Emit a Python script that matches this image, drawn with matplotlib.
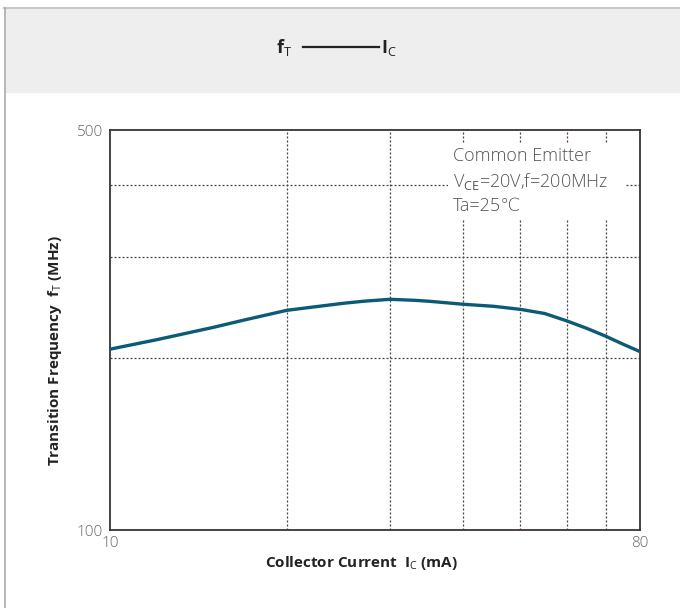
import numpy as np
import matplotlib
matplotlib.use('Agg')
import matplotlib.pyplot as plt
from matplotlib.patches import Rectangle
from matplotlib.lines import Line2D

plt.rcParams['font.family'] = ['Open Sans', 'DejaVu Sans']
plt.rcParams['mathtext.fontset'] = 'custom'
plt.rcParams['mathtext.rm'] = 'Open Sans'
plt.rcParams['mathtext.bf'] = 'Open Sans:bold'

# collector current (mA) vs transition frequency (MHz)
ic = [10, 12, 15, 17, 20, 22, 25, 27, 30, 33, 35, 40, 45, 50, 55, 60, 65, 70, 75, 80]
ft = [207, 215, 226, 233, 242, 245, 249, 251, 253, 252, 251, 248, 246, 243, 239, 232, 225, 218, 211, 205]

x_labels = [10, 80]
y_labels = [100, 500]
x_grid = [20, 30, 40, 50, 60, 70]
y_grid = [200, 300, 400]
notes = ['Common Emitter', r'V$_\mathrm{CE}$=20V,f=200MHz', 'Ta=25℃']

fig = plt.figure(figsize=(6.8, 6.08), dpi=100)

# header band + frame lines
fig.patches.append(Rectangle((5/680, 1 - 93/608), 1, 85/608, transform=fig.transFigure,
                             facecolor='#eeeeee', edgecolor='none', zorder=0))
fig.lines.append(Line2D([4/680, 1], [1 - 7.5/608, 1 - 7.5/608], transform=fig.transFigure,
                        color='#c8c8c8', lw=1.5))
fig.lines.append(Line2D([4.5/680, 4.5/680], [0, 1 - 7.5/608], transform=fig.transFigure,
                        color='#aaaaaa', lw=1.2))

# title f_T ----- I_C
fig.text(292/680, 1 - 48/608, r'$\mathbf{f}_\mathrm{T}$', ha='right', va='center',
         fontsize=13, color='#222222')
fig.lines.append(Line2D([303/680, 379/680], [1 - 47/608, 1 - 47/608], transform=fig.transFigure,
                        color='#222222', lw=1.6))
fig.text(381/680, 1 - 48/608, r'$\mathbf{I}_\mathrm{C}$', ha='left', va='center',
         fontsize=13, color='#222222')

ax = fig.add_axes([110/680, 78/608, 530/680, 400/608])
ax.set_xscale('log')
ax.set_yscale('log')
ax.set_xlim(10, 80)
ax.set_ylim(100, 500)

ax.plot(ic, ft, color='#0c5a76', lw=2.4, solid_capstyle='butt', solid_joinstyle='round', zorder=3)

ax.set_xticks(x_labels)
ax.set_xticklabels([str(v) for v in x_labels])
ax.set_xticks(x_grid, minor=True)
ax.set_yticks(y_labels)
ax.set_yticklabels([str(v) for v in y_labels])
ax.set_yticks(y_grid, minor=True)
ax.xaxis.set_minor_formatter(plt.NullFormatter())
ax.yaxis.set_minor_formatter(plt.NullFormatter())
ax.tick_params(which='both', length=0, labelsize=11, labelcolor='#666666')
ax.tick_params(axis='x', pad=4)
ax.tick_params(axis='y', pad=5)
for lab in ax.get_xticklabels() + ax.get_yticklabels():
    lab.set_fontweight('light')

ax.grid(which='minor', color='#444444', ls=(0, (1.6, 1.6)), lw=0.9)
for s in ax.spines.values():
    s.set_color('#3a3330')
    s.set_linewidth(1.3)

ax.set_xlabel(r'Collector Current  $\mathbf{I}_\mathrm{C}$ (mA)', fontsize=11,
              fontweight='bold', color='#222222', va='center')
ax.set_ylabel(r'Transition Frequency  $\mathbf{f}_\mathrm{T}$ (MHz)', fontsize=11,
              fontweight='bold', color='#222222', va='center')
ax.xaxis.set_label_coords(0.474, -0.082)
ax.yaxis.set_label_coords(-0.104, 0.45)

# condition box
fig.patches.append(Rectangle((448/680, 1 - 220/608), 177/680, 77/608, transform=fig.transFigure,
                             facecolor='white', edgecolor='none', zorder=5))
for i, line in enumerate(notes):
    fig.text(453/680, 1 - (156 + 25 * i)/608, line, ha='left', va='center', fontsize=13,
             color='#555555', fontweight='light', zorder=6)

fig.savefig('out.png', dpi=100)
